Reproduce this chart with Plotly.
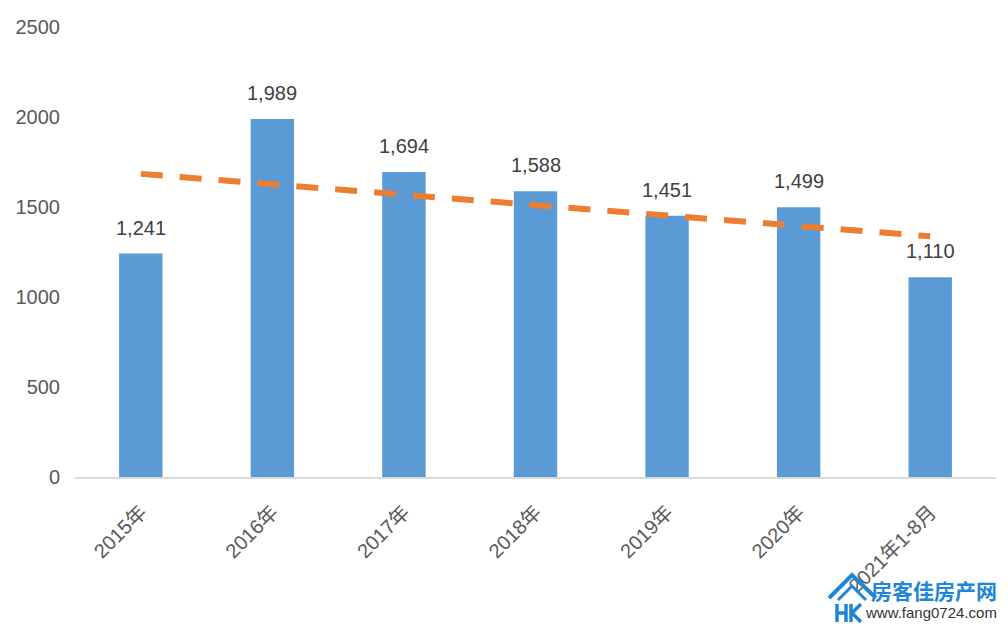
import plotly.graph_objects as go

categories = ["2015年", "2016年", "2017年", "2018年", "2019年", "2020年", "2021年1-8月"]
values = [1241, 1989, 1694, 1588, 1451, 1499, 1110]
trend = [1684, 1626, 1568, 1510, 1453, 1395, 1337]
y_ticks = [0, 500, 1000, 1500, 2000, 2500]

FONT = "Liberation Sans, Arial, Noto Sans CJK SC, sans-serif"
BLUE_LOGO = "#1E86D6"

# plot area in pixels (for placing the watermark)
L, R, T, B = 75, 996, 27, 477


def px(xp):
    return (xp - L) / (R - L)


def py(yp):
    return (B - yp) / (B - T)


fig = go.Figure()
fig.add_trace(go.Bar(
    x=categories, y=values, marker=dict(color="#5B9BD5", line=dict(width=0)),
    width=0.33, showlegend=False, hoverinfo="skip",
))
fig.add_trace(go.Scatter(
    x=categories, y=trend, mode="lines",
    line=dict(color="#ED7D31", width=6, dash="22px,17px"),
    showlegend=False, hoverinfo="skip",
))

for c, v in zip(categories, values):
    fig.add_annotation(x=c, y=v, text=f"{v:,}", showarrow=False, yanchor="bottom",
                       yshift=13, font=dict(size=20, color="#404040", family=FONT))

# watermark text
fig.add_annotation(xref="paper", yref="paper", x=px(999), y=py(590), xanchor="right", yanchor="middle",
                   text="<b>房客佳房产网</b>", showarrow=False,
                   font=dict(size=21, color=BLUE_LOGO, family="Noto Sans CJK SC"))
fig.add_annotation(xref="paper", yref="paper", x=px(999), y=py(612), xanchor="right", yanchor="middle",
                   text="www.fang0724.com", showarrow=False,
                   font=dict(size=15, color="#333333", family="Liberation Sans"))


def poly(points, width=3.5, color=BLUE_LOGO):
    path = "M " + " L ".join(f"{px(a):.5f},{py(b):.5f}" for a, b in points)
    fig.add_shape(type="path", xref="paper", yref="paper", path=path,
                  line=dict(color=color, width=width))


# logo: double roof + H K glyph strokes
poly([(829, 598), (852, 575), (876, 598)], width=4)
poly([(838, 600), (852, 586), (866, 600)], width=3)
poly([(837, 604), (837, 622)])
poly([(846, 604), (846, 622)])
poly([(837, 613), (846, 613)])
poly([(851, 604), (851, 622)])
poly([(861, 604), (852, 613), (861, 622)])

fig.update_layout(
    width=1008, height=626,
    margin=dict(l=L, r=1008 - R, t=T, b=626 - B),
    paper_bgcolor="white", plot_bgcolor="white",
    font=dict(family=FONT, size=20, color="#595959"),
    xaxis=dict(type="category", tickangle=-45, showgrid=False, showline=True,
               linecolor="#D9D9D9", linewidth=1.5, ticks="", ticklabelstandoff=14,
               tickfont=dict(size=20, color="#595959", family=FONT)),
    yaxis=dict(range=[0, 2500], tickvals=y_ticks, showgrid=False, zeroline=False,
               showline=False, ticks="", ticklabelstandoff=14,
               tickfont=dict(size=20, color="#595959", family=FONT)),
)

fig.write_html("out.html")
